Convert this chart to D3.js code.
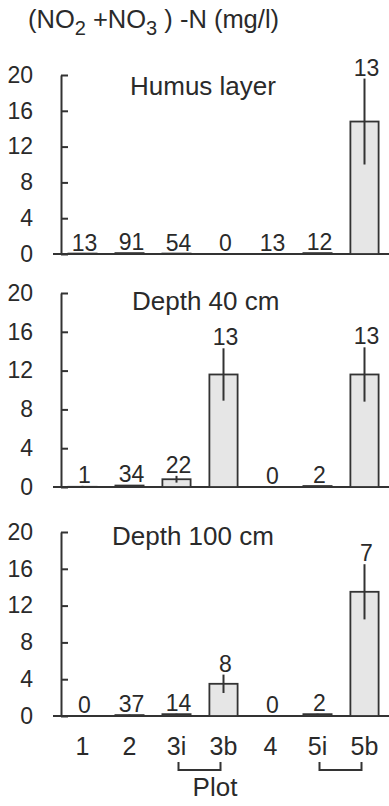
<!DOCTYPE html>
<html>
<head>
<meta charset="utf-8">
<script src="https://cdn.jsdelivr.net/npm/d3@7"></script>
<style>
  body { margin: 0; background: #fff; }
  text { font-family: "Liberation Sans", Arial, sans-serif; fill: #2a2a2a; }
</style>
</head>
<body>
<div id="chart"></div>
<script>
// plots on the x axis
const plots = ["1", "2", "3i", "3b", "4", "5i", "5b"]
const yTicks = [0, 4, 8, 12, 16, 20]

// humus layer
const humusMean = [0.05, 0.1, 0.05, 0, 0, 0.1, 14.8]
const humusErr = [0, 0, 0, 0, 0, 0, 4.8]
const humusN = [13, 91, 54, 0, 13, 12, 13]

// depth 40 cm
const d40Mean = [0.02, 0.15, 0.8, 11.6, 0, 0.1, 11.6]
const d40Err = [0.1, 0.05, 0.35, 2.7, 0, 0, 2.8]
const d40N = [1, 34, 22, 13, 0, 2, 13]

// depth 100 cm
const d100Mean = [0, 0.1, 0.2, 3.5, 0, 0.2, 13.5]
const d100Err = [0, 0.05, 0.05, 1, 0, 0.05, 3]
const d100N = [0, 37, 14, 8, 0, 2, 7]

const width = 389, height = 806
const axisX = 61
const ink = "#333"

const svg = d3.select("#chart").append("svg")
    .attr("width", width)
    .attr("height", height)

const x = d3.scaleBand()
    .domain(plots)
    .range([59, 388])
    .paddingInner(0.4)
    .paddingOuter(0.2)

// layout of the three panels (pixel positions of 0 and 20)
const panels = [
    {title: "Humus layer", tx: 130, ty: 95, y0: 254, y1: 75, mean: humusMean, err: humusErr, n: humusN},
    {title: "Depth 40 cm", tx: 132, ty: 310, y0: 487, y1: 293, mean: d40Mean, err: d40Err, n: d40N},
    {title: "Depth 100 cm", tx: 112, ty: 545, y0: 716, y1: 532, mean: d100Mean, err: d100Err, n: d100N}
]

// main title
const title = svg.append("text")
    .attr("x", 28).attr("y", 28)
    .attr("font-size", 25.5)
title.append("tspan").text("(NO")
title.append("tspan").text("2").attr("font-size", 20).attr("dy", 7)
title.append("tspan").text(" +NO").attr("dy", -7)
title.append("tspan").text("3").attr("font-size", 20).attr("dy", 7)
title.append("tspan").text(" ) -N (mg/l)").attr("dy", -7)

panels.forEach(p => {
    const y = d3.scaleLinear().domain([0, 20]).range([p.y0, p.y1])
    const g = svg.append("g")

    const yAxis = g.append("g")
        .attr("transform", `translate(${axisX},0)`)
        .call(d3.axisLeft(y).tickValues(yTicks).tickSizeInner(8).tickSizeOuter(0).tickPadding(20))
    yAxis.select(".domain").attr("stroke", ink).attr("stroke-width", 2)
    yAxis.selectAll(".tick line").attr("x2", 7).attr("stroke", ink).attr("stroke-width", 2)
    yAxis.selectAll(".tick text")
        .attr("font-size", 23)
        .attr("font-family", "Liberation Sans, Arial, sans-serif")
        .attr("fill", "#2a2a2a")

    // baseline
    g.append("line")
        .attr("x1", 53).attr("x2", width)
        .attr("y1", y(0)).attr("y2", y(0))
        .attr("stroke", ink).attr("stroke-width", 2)

    const rows = plots.map((d, i) => ({plot: d, mean: p.mean[i], err: p.err[i], n: p.n[i]}))

    g.selectAll("rect.bar")
        .data(rows.filter(d => d.mean > 0))
        .join("rect")
        .attr("class", "bar")
        .attr("x", d => x(d.plot))
        .attr("width", x.bandwidth())
        .attr("y", d => y(d.mean))
        .attr("height", d => y(0) - y(d.mean))
        .attr("fill", "#e6e6e6")
        .attr("stroke", ink)
        .attr("stroke-width", 1.8)

    g.selectAll("line.err")
        .data(rows.filter(d => d.err > 0))
        .join("line")
        .attr("class", "err")
        .attr("x1", d => x(d.plot) + x.bandwidth() / 2)
        .attr("x2", d => x(d.plot) + x.bandwidth() / 2)
        .attr("y1", d => y(d.mean - d.err))
        .attr("y2", d => y(d.mean + d.err))
        .attr("stroke", ink)
        .attr("stroke-width", 2)

    g.selectAll("text.n")
        .data(rows)
        .join("text")
        .attr("class", "n")
        .attr("x", d => x(d.plot) + x.bandwidth() / 2 + 2)
        .attr("y", d => y(d.mean + d.err) - 3)
        .attr("text-anchor", "middle")
        .attr("font-size", 23)
        .text(d => d.n)

    g.append("text")
        .attr("x", p.tx).attr("y", p.ty)
        .attr("font-size", 26)
        .text(p.title)
})

// x labels
svg.selectAll("text.plot")
    .data(plots)
    .join("text")
    .attr("class", "plot")
    .attr("x", d => x(d) + x.bandwidth() / 2)
    .attr("y", 755)
    .attr("text-anchor", "middle")
    .attr("font-size", 25)
    .text(d => d)

// brackets joining i/b plots
const pairs = [["3i", "3b"], ["5i", "5b"]]
svg.selectAll("path.bracket")
    .data(pairs)
    .join("path")
    .attr("class", "bracket")
    .attr("d", d => {
        const a = x(d[0]) + x.bandwidth() / 2 + 2
        const b = x(d[1]) + x.bandwidth() / 2 - 3
        return `M${a},762V770H${b}V762`
    })
    .attr("fill", "none")
    .attr("stroke", ink)
    .attr("stroke-width", 2)

svg.append("text")
    .attr("x", 215).attr("y", 796)
    .attr("text-anchor", "middle")
    .attr("font-size", 26)
    .text("Plot")
</script>
</body>
</html>
